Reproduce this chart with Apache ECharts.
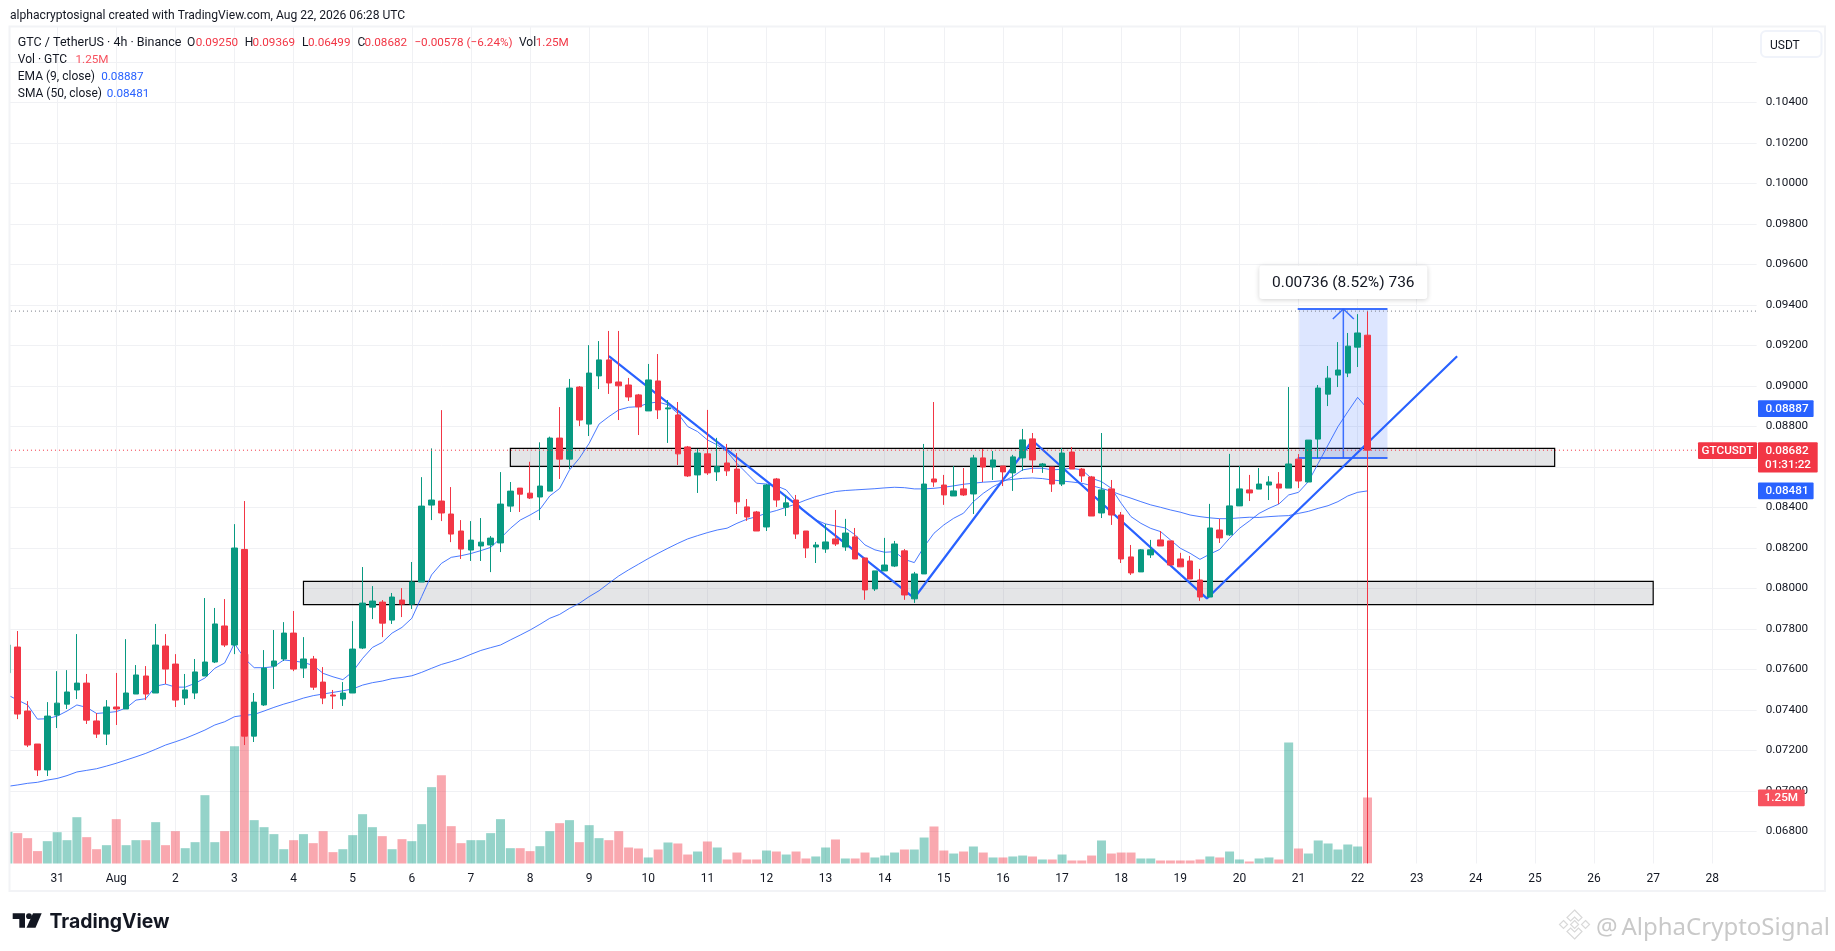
<!DOCTYPE html>
<html>
<head>
<meta charset="utf-8">
<style>html,body{margin:0;padding:0;background:#fff}#c{width:1835px;height:951px}</style>
<script src="https://cdn.jsdelivr.net/npm/echarts@6/dist/echarts.min.js"></script>
</head>
<body>
<div id="c"></div>
<script>
// All prices are in ticks of 0.00001 USDT; volumes in thousands of GTC.
const dayTicks = ['31','Aug','2','3','4','5','6','7','8','9','10','11','12','13','14','15','16','17','18','19','20','21','22','23','24','25','26','27','28'];
const priceLabels = [6800,7000,7200,7400,7600,7800,8000,8200,8400,8600,8800,9000,9200,9400,9600,9800,10000,10200,10400];
const priceGrid = [6800,7000,7200,7400,7600,7800,8000,8200,8400,8600,8800,9000,9200,9400,9600,9800,10000,10200,10400,10600];
const opens = [7583,7710,7394,7231,7103,7374,7428,7498,7532,7345,7280,7414,7404,7478,7567,7483,7715,7626,7458,7483,7567,7636,7814,7720,8192,7270,7424,7616,7651,7779,7606,7651,7537,7473,7453,7483,7705,7907,7932,7843,7942,7922,8031,8411,8431,8367,8283,8189,8209,8214,8224,8406,8495,8470,8451,8480,8742,8638,8994,8811,9049,9128,9019,9004,8955,8876,9024,8886,8856,8698,8560,8664,8575,8619,8589,8402,8377,8303,8540,8400,8436,8283,8204,8194,8244,8204,8254,8150,7997,8086,8110,8185,7948,8071,8540,8510,8456,8491,8466,8644,8599,8604,8570,8644,8738,8604,8599,8515,8673,8589,8550,8372,8491,8362,8155,8081,8165,8239,8234,8145,8135,8041,7957,8288,8264,8407,8486,8490,8510,8515,8495,8638,8525,8737,8959,9053,9063,9191,9250];
const closes = [7720,7379,7226,7103,7369,7433,7488,7532,7349,7280,7414,7404,7483,7572,7478,7720,7601,7448,7498,7587,7636,7824,7720,8199,7270,7438,7606,7641,7779,7601,7651,7512,7458,7468,7483,7700,7927,7937,7828,7957,7922,8031,8406,8436,8372,8268,8194,8238,8228,8248,8416,8480,8465,8446,8505,8742,8638,8989,8831,9063,9128,9014,9000,8945,8896,9029,8881,8891,8664,8555,8668,8570,8601,8580,8427,8352,8283,8510,8436,8422,8268,8199,8214,8229,8219,8273,8145,7992,8086,8115,8219,7967,8071,8515,8525,8461,8481,8461,8644,8599,8634,8575,8649,8733,8634,8614,8515,8668,8589,8555,8357,8486,8362,8145,8076,8190,8190,8209,8115,8106,8046,7957,8298,8249,8407,8491,8471,8515,8525,8495,8614,8530,8732,8989,9038,9078,9196,9261,8682];
const highs = [7720,7789,7443,7231,7438,7591,7596,7774,7577,7384,7448,7582,7749,7621,7616,7824,7774,7675,7577,7651,7952,7903,7947,8317,8431,7483,7695,7794,7833,7888,7759,7666,7611,7498,7537,7838,8105,8011,7942,7977,8001,8130,8549,8691,8880,8500,8337,8332,8347,8258,8574,8525,8495,8625,8721,8749,8895,9034,8999,9201,9221,9271,9271,9039,8960,9108,9157,8930,8920,8703,8688,8881,8743,8713,8668,8441,8382,8515,8545,8461,8461,8283,8229,8318,8387,8343,8298,8150,8086,8249,8234,8194,8081,8713,8920,8560,8604,8594,8659,8688,8678,8604,8659,8787,8767,8619,8599,8693,8698,8594,8555,8767,8535,8377,8214,8194,8239,8283,8234,8175,8160,8096,8417,8343,8664,8604,8560,8594,8554,8574,8994,8663,8732,9004,9098,9216,9261,9354,9369];
const lows = [7583,7354,7216,7073,7073,7310,7404,7453,7330,7261,7226,7325,7404,7478,7448,7483,7527,7414,7424,7453,7567,7631,7710,7675,7226,7241,7419,7503,7641,7591,7557,7498,7428,7404,7419,7483,7700,7848,7759,7824,7858,7898,8031,8337,8332,8228,8145,8135,8135,8080,8179,8377,8377,8441,8337,8480,8540,8589,8801,8752,8984,8960,8831,8925,8757,8876,8836,8718,8609,8550,8471,8560,8530,8555,8367,8333,8283,8283,8402,8357,8244,8150,8125,8175,8209,8185,8145,7943,7987,8086,8105,7943,7928,8071,8501,8412,8456,8456,8367,8525,8535,8505,8481,8580,8570,8570,8476,8505,8589,8525,8357,8347,8313,8125,8066,8081,8150,8209,8115,8106,8046,7938,7957,8224,8259,8407,8431,8490,8436,8416,8495,8495,8525,8643,8900,8994,9043,9093,6499];
const volumes = [600,575,480,235,423,593,442,877,499,271,347,840,347,442,442,783,347,612,290,404,1294,404,612,2222,3964,821,688,556,271,442,556,385,612,215,271,537,934,688,518,271,461,423,745,1446,1673,707,385,442,442,575,840,290,290,234,328,612,764,821,404,726,480,442,612,303,284,114,265,398,379,170,227,417,303,76,208,76,76,246,227,170,227,95,133,303,455,95,95,208,114,151,208,265,265,492,701,246,189,227,322,208,114,114,133,151,133,76,76,170,57,57,151,436,189,208,208,95,95,57,57,57,57,76,133,114,227,76,38,95,114,76,2291,284,189,436,379,265,360,322,1250];
const ema9 = [7473,7448,7424,7354,7356,7369,7394,7424,7412,7382,7386,7391,7409,7448,7455,7517,7527,7512,7512,7531,7557,7605,7631,7728,7654,7608,7608,7613,7646,7641,7634,7619,7580,7563,7549,7588,7654,7708,7733,7779,7807,7852,7959,8066,8123,8153,8161,8172,8186,8202,8247,8296,8337,8362,8390,8456,8493,8584,8642,8716,8811,8848,8881,8894,8897,8914,8920,8906,8864,8799,8774,8733,8708,8675,8617,8568,8519,8515,8506,8486,8428,8371,8338,8318,8308,8298,8264,8214,8190,8178,8181,8143,8127,8206,8272,8313,8346,8371,8428,8469,8502,8527,8552,8585,8593,8593,8585,8588,8593,8585,8543,8527,8494,8420,8354,8321,8296,8280,8239,8198,8173,8143,8169,8192,8247,8296,8332,8370,8395,8416,8461,8474,8527,8617,8708,8798,8872,8943,8887];
const sma50 = [7022,7029,7037,7042,7053,7061,7075,7093,7101,7109,7122,7136,7152,7168,7185,7205,7226,7242,7259,7279,7300,7325,7341,7366,7373,7377,7394,7412,7428,7442,7458,7470,7478,7486,7494,7503,7522,7534,7542,7554,7560,7568,7585,7605,7624,7638,7654,7674,7693,7707,7720,7745,7769,7794,7822,7852,7871,7901,7926,7959,7988,8025,8061,8091,8119,8147,8173,8198,8222,8244,8260,8275,8288,8297,8321,8341,8354,8371,8384,8400,8417,8436,8453,8466,8478,8483,8486,8489,8492,8496,8499,8497,8491,8491,8494,8499,8506,8514,8519,8524,8527,8532,8538,8543,8545,8542,8535,8530,8525,8519,8507,8494,8479,8461,8445,8428,8412,8400,8387,8376,8362,8354,8348,8344,8344,8348,8351,8350,8354,8357,8359,8370,8380,8395,8408,8428,8456,8474,8481];
const zones = [[51,157,8691,8602],[30,167,8034,7919]];
const patternIdx = [61,92,104,121.7,147.1];
const patternPrice = [9147,7952,8730,7950,9146];
const measure = [131.07,140.03,9379,8643];
const measureLabel = '0.00736 (8.52%) 736';
const highLevel = 9369, lastPrice = 8682, emaLast = 8887, smaLast = 8481, volLast = 1250;

const SLOTS = 178;
const GREEN = '#089981', RED = '#f23645', BLUE = '#2962ff', INK = '#131722';
const FONT = 'Roboto';
const AXISPX = 11.7;
const categories = Array.from({length: SLOTS}, (_, i) => (i >= 5 && (i - 5) % 6 === 0) ? (dayTicks[(i - 5) / 6] || '') : '');
const isDay = i => i >= 5 && (i - 5) % 6 === 0 && (i - 5) / 6 < dayTicks.length;
const fmt = v => (v / 100000).toFixed(5);

const chart = echarts.init(document.getElementById('c'), null, {renderer: 'canvas'});
chart.setOption({
  animation: false,
  backgroundColor: '#fff',
  textStyle: {fontFamily: FONT},
  grid: {left: 2.97, width: 1753.66, top: 26, height: 837.5, containLabel: false},
  xAxis: [
    {type: 'category', data: categories, boundaryGap: true, axisLine: {show: false}, axisTick: {show: false},
     axisLabel: {interval: (i) => isDay(i), margin: 9, color: INK, fontSize: 12, fontFamily: FONT, hideOverlap: false},
     splitLine: {show: true, interval: (i) => isDay(i), alignWithLabel: true, lineStyle: {color: '#f0f1f4', width: 1}}},
    {type: 'value', show: false, min: -0.5, max: SLOTS - 0.5, splitLine: {show: false}}
  ],
  yAxis: [
    {type: 'value', position: 'right', min: 6641, max: 10777, scale: true,
     axisLine: {show: false}, axisTick: {show: false, customValues: priceGrid},
     axisLabel: {customValues: priceLabels, margin: 9, color: INK, fontSize: AXISPX, fontFamily: FONT, formatter: v => fmt(v)},
     splitLine: {show: true, lineStyle: {color: '#f0f1f4', width: 1}}},
    {type: 'value', show: false, min: 0, max: 15862, splitLine: {show: false}}
  ],
  series: [
    {type: 'bar', name: 'Vol', xAxisIndex: 0, yAxisIndex: 1, barWidth: 9, z: 1, silent: true,
     data: volumes.map((v, i) => ({value: v, itemStyle: {color: closes[i] >= opens[i] ? 'rgba(8,153,129,0.43)' : 'rgba(242,54,69,0.43)'}}))},
    {type: 'custom', name: 'Zones', xAxisIndex: 1, yAxisIndex: 0, z: 2, silent: true, data: zones, encode: {x: [0, 1], y: [2, 3]},
     renderItem: (p, api) => {
       const a = api.coord([api.value(0), api.value(2)]), b = api.coord([api.value(1), api.value(3)]);
       return {type: 'rect', shape: {x: a[0], y: a[1], width: b[0] - a[0], height: b[1] - a[1]},
               style: {fill: 'rgba(120,123,134,0.2)', stroke: '#000', lineWidth: 1.2}};
     }},
    {type: 'custom', name: 'Measure', xAxisIndex: 1, yAxisIndex: 0, z: 2, silent: true, data: [measure], encode: {x: [0, 1], y: [2, 3]},
     renderItem: (p, api) => {
       const a = api.coord([api.value(0), api.value(2)]), b = api.coord([api.value(1), api.value(3)]);
       const mx = (a[0] + b[0]) / 2;
       const line = (x1, y1, x2, y2, w) => ({type: 'line', shape: {x1, y1, x2, y2}, style: {stroke: BLUE, lineWidth: w, opacity: 0.9}});
       return {type: 'group', children: [
         {type: 'rect', shape: {x: a[0], y: a[1], width: b[0] - a[0], height: b[1] - a[1]}, style: {fill: 'rgba(41,98,255,0.16)'}},
         line(a[0] - 1.5, a[1], b[0], a[1], 2),
         line(a[0] - 1.5, b[1], b[0], b[1], 2),
         line(mx, a[1], mx, b[1], 1.5),
         line(mx, a[1], mx - 10.5, a[1] + 10, 1.5),
         line(mx, a[1], mx + 10.5, a[1] + 10, 1.5),
         {type: 'rect', shape: {x: mx - 84, y: a[1] - 43.5, width: 168, height: 33.5, r: 3},
          style: {fill: '#fff', shadowBlur: 5, shadowColor: 'rgba(0,0,0,0.18)', shadowOffsetY: 1}, z2: 20},
         {type: 'text', x: mx, y: a[1] - 25.7, z2: 21,
          style: {text: measureLabel, fill: INK, font: '15.5px ' + FONT, textAlign: 'center', textVerticalAlign: 'middle'}}
       ]};
     }},
    {type: 'line', name: 'SMA 50', xAxisIndex: 0, yAxisIndex: 0, data: sma50, showSymbol: false, z: 3, silent: true,
     lineStyle: {color: BLUE, width: 1, opacity: 0.85}},
    {type: 'line', name: 'EMA 9', xAxisIndex: 0, yAxisIndex: 0, data: ema9, showSymbol: false, z: 3, silent: true,
     lineStyle: {color: BLUE, width: 1, opacity: 0.85}},
    {type: 'line', name: 'Pattern', xAxisIndex: 1, yAxisIndex: 0, data: patternIdx.map((x, i) => [x, patternPrice[i]]), showSymbol: false, z: 4, silent: true,
     lineStyle: {color: BLUE, width: 2.2}},
    {type: 'candlestick', name: 'GTCUSDT', xAxisIndex: 0, yAxisIndex: 0, z: 5, silent: true, barWidth: 6,
     data: opens.map((o, i) => [o, closes[i], lows[i], highs[i]]),
     itemStyle: {color: GREEN, color0: RED, borderColor: GREEN, borderColor0: RED, borderWidth: 1}},
    {type: 'line', name: 'High level', xAxisIndex: 1, yAxisIndex: 0, data: [[-0.5, highLevel], [SLOTS - 0.5, highLevel]], showSymbol: false, z: 6, silent: true,
     lineStyle: {color: '#787b86', width: 1, type: [1, 3]}},
    {type: 'line', name: 'Last level', xAxisIndex: 1, yAxisIndex: 0, data: [[-0.5, lastPrice], [171.55, lastPrice]], showSymbol: false, z: 6, silent: true,
     lineStyle: {color: RED, width: 1, type: [1, 3]}}
  ]
});

const py = v => chart.convertToPixel({yAxisIndex: 0}, v);
const pv = v => chart.convertToPixel({yAxisIndex: 1}, v);
const Z = 100;
const txt = (x, y, s, fill, font, align) => ({type: 'text', z: Z + 2, x, y, silent: true,
  style: {text: s, fill, font: font || ('12px ' + FONT), textAlign: align || 'left', textVerticalAlign: 'middle'}});
const box = (x, y, w, h, fill, r) => ({type: 'rect', z: Z + 1, silent: true, shape: {x, y, width: w, height: h, r: r || 0}, style: {fill}});
const HFONT = '12px ' + FONT;
const NUM = AXISPX + 'px ' + FONT;
const TAG = '500 ' + AXISPX + 'px ' + FONT;
const VRED = '#f23645';
const tags = [];
const lastY = py(lastPrice), emaY = py(emaLast), smaY = py(smaLast);
// Price-scale tags follow the price scale.
tags.push(box(1758, emaY - 8.4, 55.6, 16.8, BLUE, 1), txt(1787, emaY + 0.5, fmt(emaLast), '#fff', TAG, 'center'));
tags.push(box(1758, lastY - 8, 59.7, 30.4, RED, 1), txt(1787, lastY + 0.5, fmt(lastPrice), '#fff', TAG, 'center'), txt(1788, lastY + 14.5, '01:31:22', '#fff', TAG, 'center'));
tags.push(box(1698, lastY - 8, 59, 16.7, RED, 1), txt(1727.5, lastY + 0.5, 'GTCUSDT', '#fff', TAG, 'center'));
tags.push(box(1758, smaY - 8.4, 55.6, 16.8, BLUE, 1), txt(1787, smaY + 0.5, fmt(smaLast), '#fff', TAG, 'center'));
const volY = pv(volLast);
tags.push(box(1758, volY - 8, 46.7, 16.7, '#f7525f', 1), txt(1781.3, volY + 0.5, '1.25M', '#fff', TAG, 'center'));

chart.setOption({graphic: [
  {type: 'rect', z: Z, silent: true, shape: {x: 0, y: 20, width: 9, height: 880}, style: {fill: '#fff'}},
  // The last candle's low lies below the visible price range: mask what runs past the baseline.
  {type: 'rect', z: Z, silent: true, shape: {x: 1364, y: 863.5, width: 9, height: 32}, style: {fill: '#fff'}},
  {type: 'rect', z: Z, silent: true, shape: {x: 9.5, y: 26.5, width: 1815.5, height: 864.5}, style: {fill: 'none', stroke: '#f2f3f6', lineWidth: 2}},
  {type: 'rect', z: Z, silent: true, shape: {x: 1761, y: 31, width: 60.5, height: 26, r: 5}, style: {fill: '#fff', stroke: '#f0f3fa', lineWidth: 2}},
  txt(1770, 45.5, 'USDT', INK, '12px ' + FONT),
  txt(10, 15.7, 'alphacryptosignal created with TradingView.com, Aug 22, 2026 06:28 UTC', INK, '12.1px ' + FONT),
  txt(17.8, 42.7, 'GTC / TetherUS \u00b7 4h \u00b7 Binance', INK, '12.5px ' + FONT),
  txt(187, 42.7, 'O', INK, HFONT), txt(195.7, 42.7, '0.09250', VRED, NUM),
  txt(244.8, 42.7, 'H', INK, HFONT), txt(252.6, 42.7, '0.09369', VRED, NUM),
  txt(302, 42.7, 'L', INK, HFONT), txt(308, 42.7, '0.06499', VRED, NUM),
  txt(357.5, 42.7, 'C', INK, HFONT), txt(364.6, 42.7, '0.08682', VRED, NUM),
  txt(414.4, 42.7, '\u22120.00578 (\u22126.24%)', VRED, NUM),
  txt(519, 42.7, 'Vol', INK, HFONT), txt(535.8, 42.7, '1.25M', VRED, NUM),
  txt(17.8, 59.7, 'Vol \u00b7 GTC', INK, HFONT), txt(75.5, 59.7, '1.25M', '#f7525f', NUM),
  txt(17.8, 76.7, 'EMA (9, close)', INK, HFONT), txt(101.2, 76.7, '0.08887', BLUE, NUM),
  txt(17.8, 93.7, 'SMA (50, close)', INK, HFONT), txt(106.8, 93.7, '0.08481', BLUE, NUM),
  ...tags,
  // TradingView mark
  {type: 'polygon', z: Z, silent: true, shape: {points: [[12.7,913.3],[25,913.3],[25,927.7],[19.3,927.7],[19.3,918.9],[12.7,918.9]]}, style: {fill: '#131722'}},
  {type: 'circle', z: Z, silent: true, shape: {cx: 29, cy: 916.2, r: 2.9}, style: {fill: '#131722'}},
  {type: 'polygon', z: Z, silent: true, shape: {points: [[33,913.3],[41.7,913.3],[35.5,927.7],[26.5,927.7]]}, style: {fill: '#131722'}},
  txt(49.5, 922, 'TradingView', '#131722', 'bold 19.4px Inter'),
  // Watermark
  {type: 'polygon', z: Z, silent: true, shape: {points: [[1574.6,910],[1582,917.5],[1578.5,921],[1574.6,917],[1570.6,921],[1567,917.5]]}, style: {fill: 'none', stroke: '#d9d9d9', lineWidth: 1.2}},
  {type: 'polygon', z: Z, silent: true, shape: {points: [[1574.6,939],[1582,931.5],[1578.5,928],[1574.6,932],[1570.6,928],[1567,931.5]]}, style: {fill: 'none', stroke: '#d9d9d9', lineWidth: 1.2}},
  {type: 'polygon', z: Z, silent: true, shape: {points: [[1574.6,920.5],[1578.6,924.5],[1574.6,928.5],[1570.6,924.5]]}, style: {fill: 'none', stroke: '#d9d9d9', lineWidth: 1.2}},
  {type: 'polygon', z: Z, silent: true, shape: {points: [[1563.5,920.5],[1567.5,924.5],[1563.5,928.5],[1559.5,924.5]]}, style: {fill: 'none', stroke: '#d9d9d9', lineWidth: 1.2}},
  {type: 'polygon', z: Z, silent: true, shape: {points: [[1585.5,920.5],[1589.5,924.5],[1585.5,928.5],[1581.5,924.5]]}, style: {fill: 'none', stroke: '#d9d9d9', lineWidth: 1.2}},
  txt(1596, 928, '@', '#c9c9c9', '24px "Noto Sans"'),
  txt(1621.5, 928, 'AlphaCryptoSignal', '#c9c9c9', '24px "Noto Sans"')
]});
</script>
</body>
</html>
